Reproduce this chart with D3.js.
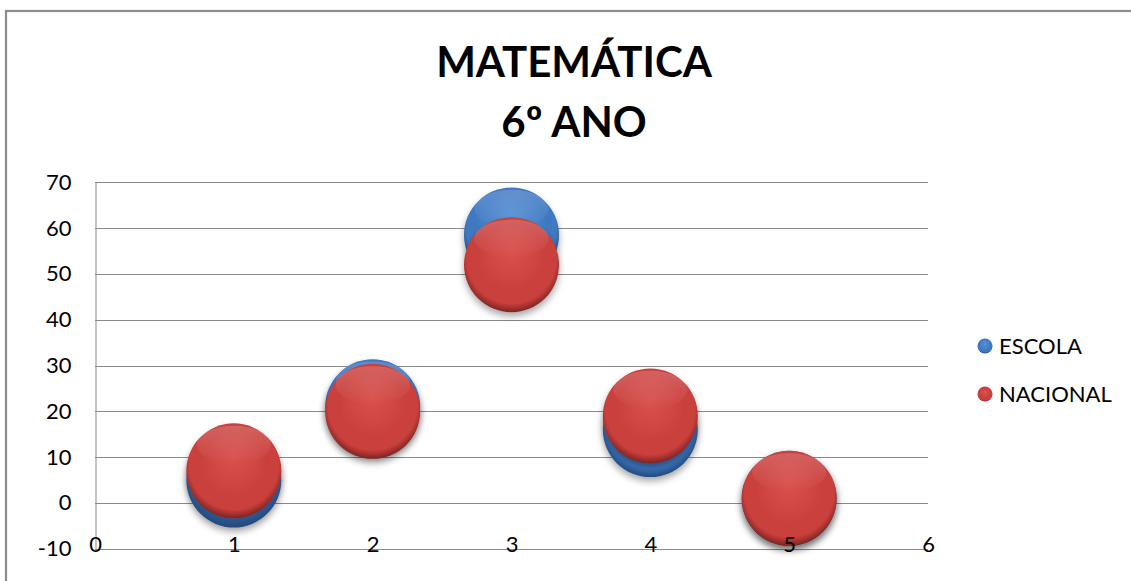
<!DOCTYPE html>
<html>
<head>
<meta charset="utf-8">
<script src="https://cdn.jsdelivr.net/npm/d3@7"></script>
<style>
  html, body { margin: 0; padding: 0; background: #fff; }
  svg { display: block; }
  text { font-family: Lato, "Open Sans", sans-serif; fill: #000; }
</style>
</head>
<body>
<svg id="chart" width="1131" height="581"></svg>
<script>
// ---- data ----
const categories = [1, 2, 3, 4, 5];
const escolaValues = [5, 21, 58.5, 16, 1];
const nacionalValues = [7, 20, 52, 19, 1];
const escolaSizes = [1, 1, 1, 1, 1];
const nacionalSizes = [1, 1, 1, 1, 1];
const xTicks = [0, 1, 2, 3, 4, 5, 6];
const yTicks = [-10, 0, 10, 20, 30, 40, 50, 60, 70];
const seriesNames = ["ESCOLA", "NACIONAL"];
const titleLines = ["MATEMÁTICA", "6º ANO"];

const svg = d3.select("#chart");
const W = 1131, H = 581;

// outer frame
svg.append("rect").attr("x", 6).attr("y", 11).attr("width", W + 10).attr("height", H + 10)
  .attr("fill", "#fff").attr("stroke", "#8c8c8c").attr("stroke-width", 2.2);

const x = d3.scaleLinear().domain([0, 6]).range([95, 928]);
const y = d3.scaleLinear().domain([-10, 70]).range([548.7, 182.3]);
const r = d3.scaleSqrt().domain([0, 1]).range([0, 47.5]);

// defs: gradients & shadow
const defs = svg.append("defs");
const palettes = {
  ESCOLA: { light: "#5b93d8", base: "#3f78c2", dark: "#2b5a98", rim: "#24497d" },
  NACIONAL: { light: "#d9514d", base: "#c93f3c", dark: "#a02f2d", rim: "#7e2422" }
};
seriesNames.forEach((name, i) => {
  const p = palettes[name];
  const g = defs.append("radialGradient").attr("id", "grad" + i)
    .attr("cx", "50%").attr("cy", "45%").attr("r", "55%").attr("fx", "50%").attr("fy", "35%");
  g.append("stop").attr("offset", "0%").attr("stop-color", p.light);
  g.append("stop").attr("offset", "70%").attr("stop-color", p.base);
  g.append("stop").attr("offset", "86%").attr("stop-color", p.base);
  g.append("stop").attr("offset", "94%").attr("stop-color", p.dark);
  g.append("stop").attr("offset", "100%").attr("stop-color", p.rim);
});
const hl = defs.append("linearGradient").attr("id", "hl").attr("x1", 0).attr("y1", 0).attr("x2", 0).attr("y2", 1);
hl.append("stop").attr("offset", "0%").attr("stop-color", "#fff").attr("stop-opacity", 0.18);
hl.append("stop").attr("offset", "100%").attr("stop-color", "#fff").attr("stop-opacity", 0);
const f = defs.append("filter").attr("id", "shadow").attr("x", "-30%").attr("y", "-30%").attr("width", "160%").attr("height", "170%");
f.append("feDropShadow").attr("dx", 0).attr("dy", 4).attr("stdDeviation", 3.5)
  .attr("flood-color", "#000").attr("flood-opacity", 0.35);

// gridlines
svg.append("g").selectAll("line").data(yTicks).join("line")
  .attr("x1", x(0)).attr("x2", x(6))
  .attr("y1", d => Math.round(y(d)) + 0.5).attr("y2", d => Math.round(y(d)) + 0.5)
  .attr("stroke", "#8a8a8a").attr("stroke-width", 1);

// y axis
const yAxis = svg.append("g").attr("transform", `translate(${Math.round(x(0)) + 0.5},0)`)
  .call(d3.axisLeft(y).tickValues(yTicks).tickSize(0).tickPadding(24).tickFormat(d => String(d)));
yAxis.select(".domain").attr("stroke", "#8a8a8a");
yAxis.selectAll("text").attr("font-size", 22).attr("font-family", "Lato, sans-serif").attr("fill", "#000");

// bubbles
const series = [
  { name: "ESCOLA", values: escolaValues, sizes: escolaSizes },
  { name: "NACIONAL", values: nacionalValues, sizes: nacionalSizes }
];
series.forEach((s, i) => {
  const pts = categories.map((c, j) => ({ c, v: s.values[j], size: s.sizes[j] }));
  const g = svg.append("g");
  g.selectAll("circle.b").data(pts).join("circle").attr("class", "b")
    .attr("cx", d => x(d.c)).attr("cy", d => y(d.v)).attr("r", d => r(d.size))
    .attr("fill", `url(#grad${i})`).attr("filter", "url(#shadow)");
  g.selectAll("ellipse.h").data(pts).join("ellipse").attr("class", "h")
    .attr("cx", d => x(d.c)).attr("cy", d => y(d.v) - r(d.size) * 0.55)
    .attr("rx", d => r(d.size) * 0.78).attr("ry", d => r(d.size) * 0.4)
    .attr("fill", "url(#hl)");
});

// x axis labels (drawn above bubbles)
const xAxis = svg.append("g").attr("transform", "translate(0,536)")
  .call(d3.axisBottom(x).tickValues(xTicks).tickSize(0).tickPadding(0).tickFormat(d => String(d)));
xAxis.select(".domain").remove();
xAxis.selectAll("text").attr("font-size", 22).attr("font-family", "Lato, sans-serif").attr("fill", "#000");

// legend
const legend = svg.append("g");
seriesNames.forEach((name, i) => {
  const ly = 346 + i * 48;
  legend.append("circle").attr("cx", 985).attr("cy", ly).attr("r", 7.5)
    .attr("fill", `url(#grad${i})`);
  legend.append("text").attr("x", 999).attr("y", ly).attr("dy", "0.36em")
    .attr("font-size", 22).text(name);
});

// title
svg.append("g").selectAll("text").data(titleLines).join("text")
  .attr("x", 574).attr("y", (d, i) => 77 + i * 60)
  .attr("text-anchor", "middle").attr("font-weight", "bold").attr("font-size", 42)
  .text(d => d);
</script>
</body>
</html>
